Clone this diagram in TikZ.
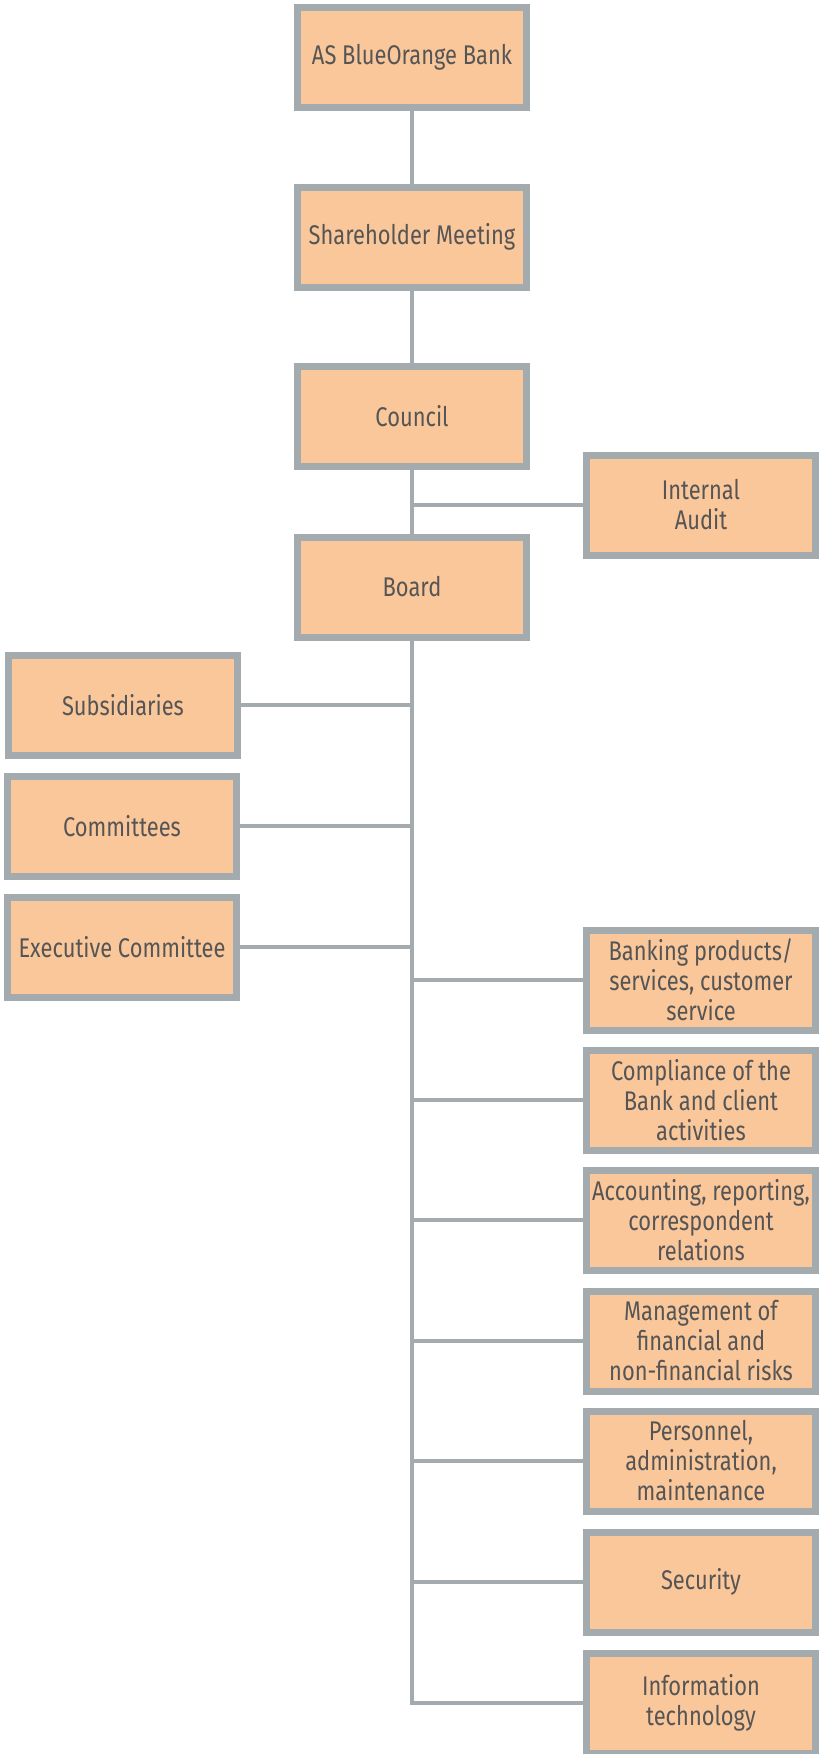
\documentclass[tikz,border=0pt]{standalone}
\usepackage{fontspec}
\setmainfont{Fira Sans}[FakeStretch=0.81]
\definecolor{boxfill}{HTML}{FAC79B}
\definecolor{boxline}{HTML}{A4ABAE}
\definecolor{boxtext}{HTML}{555555}
\begin{document}
\begin{tikzpicture}[x=1pt,y=-1pt,
  unit/.style={draw=boxline,fill=boxfill,line width=7pt,minimum width=229pt,minimum height=100pt,
    inner sep=0pt,align=center,text=boxtext,font=\fontsize{27}{30}\selectfont},
  link/.style={draw=boxline,line width=4pt}]
\useasboundingbox (0,0) rectangle (819,1754);
\node[unit] (bank) at (412,57) {AS BlueOrange Bank};
\node[unit] (share) at (412,237) {Shareholder Meeting};
\node[unit] (council) at (412,416) {Council};
\node[unit] (audit) at (701,505) {Internal\\Audit};
\node[unit] (board) at (412,587) {Board};
\node[unit] (subs) at (123,705) {Subsidiaries};
\node[unit] (comm) at (122,826) {Committees};
\node[unit] (exec) at (122,947) {Executive Committee};
\node[unit] (prod) at (701,980) {Banking products/\\services, customer\\service};
\node[unit] (comp) at (701,1100) {Compliance of the\\Bank and client\\activities};
\node[unit] (acct) at (701,1220) {Accounting, reporting,\\correspondent\\relations};
\node[unit] (risk) at (701,1341) {Management of\\financial and\\non-financial risks};
\node[unit] (staff) at (701,1461) {Personnel,\\administration,\\maintenance};
\node[unit] (secu) at (701,1582) {Security};
\node[unit] (tech) at (701,1703) {Information\\technology};
\coordinate (foot) at (412,1703);
\draw[link] (bank) -- (share);
\draw[link] (share) -- (council);
\draw[link] (council) -- (board);
\draw[link] (audit.west) -- (audit.west -| council.south);
\draw[link] (board.south) -- (foot) -- (tech.west);
\foreach \n in {subs,comm,exec}
  \draw[link] (\n.east) -- (\n.east -| board.south);
\foreach \n in {prod,comp,acct,risk,staff,secu}
  \draw[link] (\n.west) -- (\n.west -| board.south);
\end{tikzpicture}
\end{document}
